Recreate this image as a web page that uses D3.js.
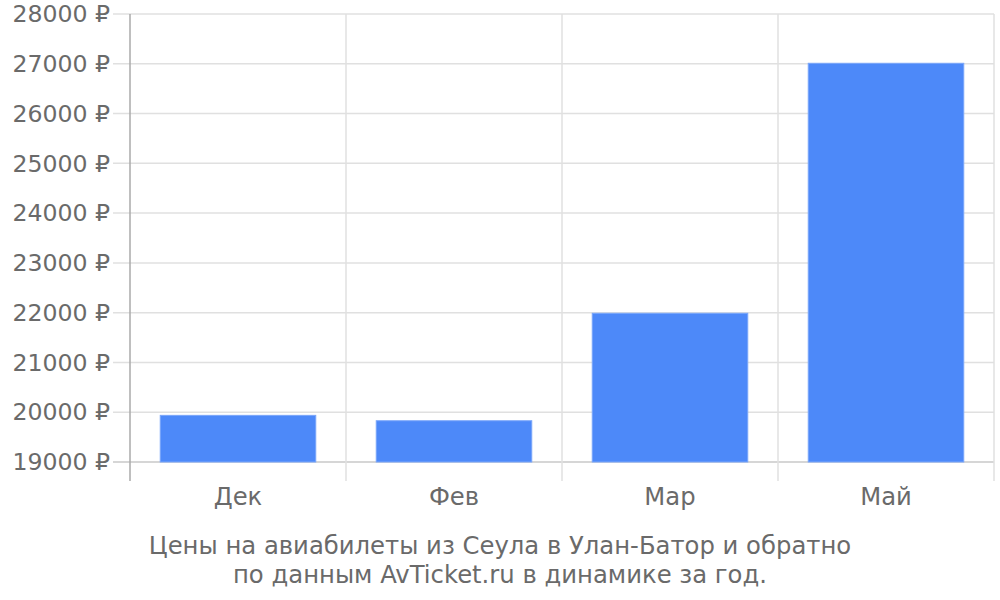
<!DOCTYPE html>
<html>
<head>
<meta charset="utf-8">
<script src="https://cdn.jsdelivr.net/npm/d3@7"></script>
<style>
  body { margin: 0; background: #fff; }
  svg { font-family: "DejaVu Sans", sans-serif; }
</style>
</head>
<body>
<div id="chart"></div>
<script>
var months = ["Дек", "Фев", "Мар", "Май"];
var prices = [19937, 19829, 21988, 27010];
var yTicks = [19000, 20000, 21000, 22000, 23000, 24000, 25000, 26000, 27000, 28000];
var titleLines = ["Цены на авиабилеты из Сеула в Улан-Батор и обратно",
                  "по данным AvTicket.ru в динамике за год."];

(function () {
    'use strict';
    var width = 1000, height = 600,
        left = 130, right = 994, top = 14, bottom = 462,
        textColor = "#6a6a6a",
        svg, x, xGrid, y;

    svg = d3.select("#chart").append("svg")
        .attr("width", width)
        .attr("height", height);

    x = d3.scaleBand().domain(months).range([left, right])
        .paddingInner(0.28).paddingOuter(0.14);
    xGrid = d3.scaleBand().domain(months).range([left, right]);
    y = d3.scaleLinear().domain([19000, 28000]).range([bottom, top]);

    // horizontal grid + tick stubs
    svg.append("g").selectAll("line")
        .data(yTicks)
        .enter().append("line")
        .attr("x1", left - 17).attr("x2", right)
        .attr("y1", function (d) { return y(d); })
        .attr("y2", function (d) { return y(d); })
        .attr("stroke", function (d) { return d === 19000 ? "#c8c8c8" : "#e0e0e0"; })
        .attr("stroke-width", 1.5);

    // vertical grid at band edges
    svg.append("g").selectAll("line")
        .data(months.slice(1).map(function (m) { return xGrid(m); }).concat([right]))
        .enter().append("line")
        .attr("x1", function (d) { return d; }).attr("x2", function (d) { return d; })
        .attr("y1", top).attr("y2", bottom + 19)
        .attr("stroke", "#e0e0e0")
        .attr("stroke-width", 1.5);

    svg.append("line")
        .attr("x1", left).attr("x2", left)
        .attr("y1", top).attr("y2", bottom + 19)
        .attr("stroke", "#aaa")
        .attr("stroke-width", 1.5);

    // y labels
    svg.append("g").selectAll("text")
        .data(yTicks)
        .enter().append("text")
        .attr("x", left - 20)
        .attr("y", function (d) { return y(d); })
        .attr("dy", "0.35em")
        .attr("text-anchor", "end")
        .attr("fill", textColor)
        .style("font-size", "23.6px")
        .text(function (d) { return d + " ₽"; });

    // bars
    svg.append("g").selectAll("rect")
        .data(prices)
        .enter().append("rect")
        .attr("x", function (d, i) { return x(months[i]); })
        .attr("width", x.bandwidth())
        .attr("y", function (d) { return y(d); })
        .attr("height", function (d) { return y(19000) - y(d); })
        .attr("fill", "#4d89f9")
        .attr("stroke", "#7aa6fa")
        .attr("stroke-width", 1);

    // x labels
    svg.append("g").selectAll("text")
        .data(months)
        .enter().append("text")
        .attr("x", function (d) { return x(d) + x.bandwidth() / 2; })
        .attr("y", 505)
        .attr("text-anchor", "middle")
        .attr("fill", textColor)
        .style("font-size", "24.3px")
        .text(function (d) { return d; });

    // caption
    svg.append("g").selectAll("text")
        .data(titleLines)
        .enter().append("text")
        .attr("x", 500)
        .attr("y", function (d, i) { return 554 + i * 29; })
        .attr("text-anchor", "middle")
        .attr("fill", textColor)
        .style("font-size", "24.3px")
        .text(function (d) { return d; });
}());
</script>
</body>
</html>
